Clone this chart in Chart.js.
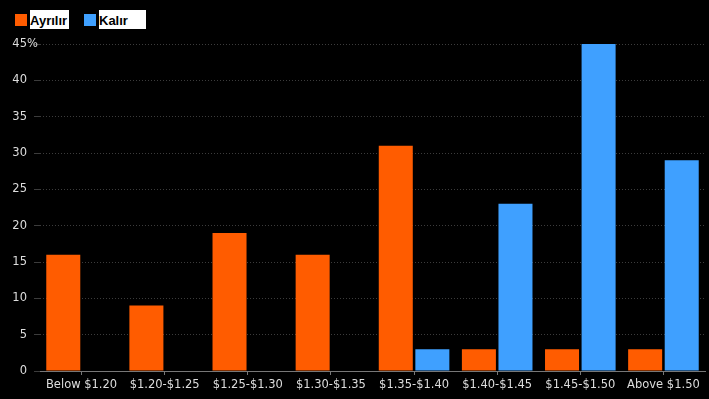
<!DOCTYPE html>
<html>
<head>
<meta charset="utf-8">
<script src="https://cdn.jsdelivr.net/npm/chart.js@4"></script>
<style>
  html, body { margin: 0; padding: 0; background: #000; }
  #wrap { position: relative; width: 709px; height: 399px; }
  #legend { position: absolute; left: 15px; top: 10px; display: flex; align-items: center;
            font-family: "Liberation Sans", Arial, sans-serif; font-weight: bold; font-size: 13px; }
  .item { display: flex; align-items: center; }
  .box { width: 12px; height: 12px; margin-right: 3px; }
  .txt { background: #fff; color: #000; height: 19px; line-height: 21px; overflow: hidden; white-space: nowrap; }
</style>
</head>
<body>
<div id="wrap">
  <canvas id="barChart" width="709" height="399"></canvas>
  <div id="legend"></div>
</div>
<script>
const categories = ['Below $1.20', '$1.20-$1.25', '$1.25-$1.30', '$1.30-$1.35',
                    '$1.35-$1.40', '$1.40-$1.45', '$1.45-$1.50', 'Above $1.50'];
const leaveValues = [16, 9, 19, 16, 31, 3, 3, 3];
const remainValues = [null, null, null, null, 3, 23, 45, 29];
const seriesNames = ['Ayrılır', 'Kalır'];
const seriesColors = ['#ff5c00', '#3fa0ff'];

// legend: square + text on a white strip
const legend = document.getElementById('legend');
const textWidths = [39, 47];
seriesNames.forEach((name, i) => {
    const item = document.createElement('div');
    item.className = 'item';
    item.style.marginRight = i === 0 ? '15px' : '0';
    item.innerHTML = '<span class="box" style="background:' + seriesColors[i] + '"></span>' +
        '<span class="txt" style="width:' + textWidths[i] + 'px">' + name + '</span>';
    legend.appendChild(item);
});

const tickFont = { family: '"DejaVu Sans", sans-serif', size: 11.5 };

// the % sign hangs past the top label
const percentSign = {
    id: 'percentSign',
    afterDraw(chart) {
        const y = chart.scales.y;
        const c = chart.ctx;
        c.save();
        c.font = '11.5px "DejaVu Sans", sans-serif';
        c.fillStyle = '#ddd';
        c.textAlign = 'left';
        c.textBaseline = 'middle';
        c.fillText('%', y.right - 13, y.getPixelForValue(45));
        c.restore();
    },
};

const chartConfig = {
    type: 'bar',
    data: {
        labels: categories,
        datasets: [
            { label: seriesNames[0], data: leaveValues, backgroundColor: seriesColors[0] },
            { label: seriesNames[1], data: remainValues, backgroundColor: seriesColors[1] },
        ],
    },
    options: {
        responsive: false,
        animation: false,
        categoryPercentage: 0.88,
        barPercentage: 0.93,
        layout: { padding: { top: 44, right: 4, left: 0, bottom: 0 } },
        plugins: { legend: { display: false }, tooltip: { enabled: false } },
        scales: {
            x: {
                grid: { display: true, offset: false, drawOnChartArea: false, drawTicks: true,
                        tickLength: 4, color: '#777' },
                border: { display: true, color: '#777' },
                ticks: { color: '#ddd', font: tickFont, maxRotation: 0, autoSkip: false, padding: 3 },
                afterFit: (scale) => { scale.height = 28; },
            },
            y: {
                min: 0,
                max: 45,
                ticks: {
                    stepSize: 5,
                    color: '#ddd',
                    font: tickFont,
                    padding: 7,
                },
                grid: { color: '#3c3c3c', tickLength: 6, drawTicks: true },
                border: { display: false, dash: [1, 2] },
                afterFit: (scale) => { scale.width = 40; },
            },
        },
    },
    plugins: [percentSign],
};

const ctx = document.getElementById('barChart').getContext('2d');
new Chart(ctx, chartConfig);
</script>
</body>
</html>
